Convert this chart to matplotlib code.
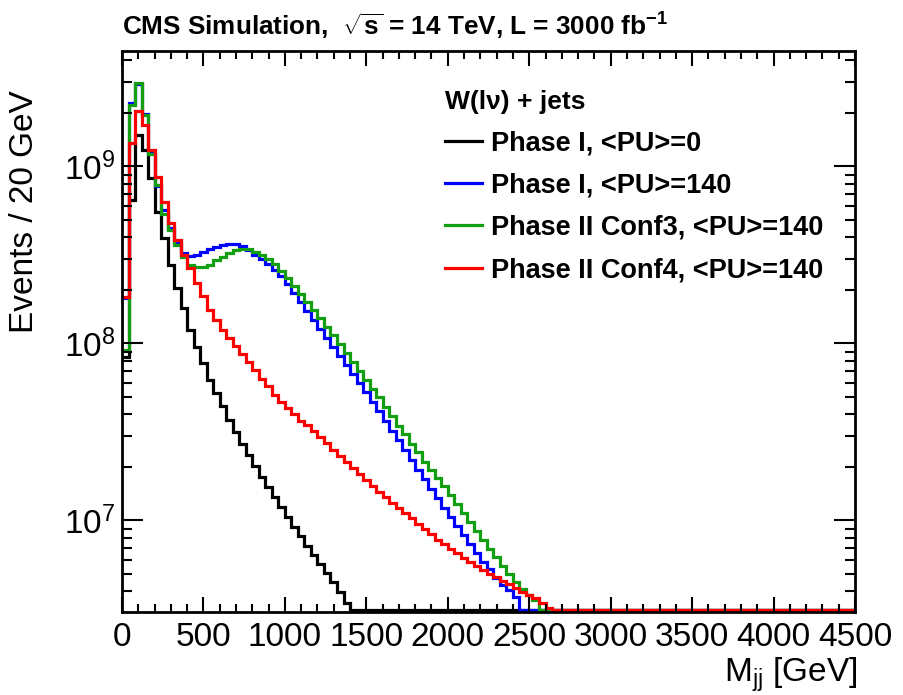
import numpy as np
import matplotlib
matplotlib.use("Agg")
import matplotlib.pyplot as plt
from matplotlib.lines import Line2D
from matplotlib.ticker import MultipleLocator, LogLocator, LogFormatterSciNotation, NullFormatter

plt.rcParams['font.family'] = ['Liberation Sans', 'DejaVu Sans']
plt.rcParams['mathtext.fontset'] = 'custom'
plt.rcParams['mathtext.rm'] = 'Liberation Sans'
plt.rcParams['mathtext.it'] = 'Liberation Sans:italic'
plt.rcParams['mathtext.bf'] = 'Liberation Sans:bold'

# ---------------- data (events per bin, bins of 40 GeV starting at 0) ----------------
BIN_WIDTH = 40
X_MAX = 4500
Y_MIN, Y_MAX = 3.04e6, 4.49e9

labels = ["Phase I, <PU>=0", "Phase I, <PU>=140",
          "Phase II Conf3, <PU>=140", "Phase II Conf4, <PU>=140"]
colors = ["#000000", "#0000ff", "#12a012", "#ff0000"]

phase1_pu0 = [
    8.4e7, 6.47e8, 1.51e9, 1.24e9, 8.61e8, 5.53e8, 3.94e8, 2.78e8, 2.06e8, 1.59e8,
    1.19e8, 9.55e7, 7.76e7, 6.22e7, 5.25e7, 4.43e7, 3.70e7, 3.16e7, 2.70e7, 2.34e7,
    2.03e7, 1.76e7, 1.55e7, 1.36e7, 1.19e7, 1.05e7, 9.19e6, 8.18e6, 7.18e6, 6.38e6,
    5.68e6, 5.05e6, 4.49e6, 3.94e6, 3.42e6,
]
phase1_pu140 = [
    1.81e8, 2.29e9, 2.92e9, 1.98e9, 1.19e9, 7.76e8, 5.68e8, 4.49e8, 3.75e8, 3.25e8,
    3.12e8, 3.16e8, 3.29e8, 3.42e8, 3.51e8, 3.60e8, 3.65e8, 3.65e8, 3.55e8, 3.37e8,
    3.16e8, 3.00e8, 2.81e8, 2.60e8, 2.41e8, 2.17e8, 1.93e8, 1.72e8, 1.53e8, 1.36e8,
    1.21e8, 1.07e8, 9.55e7, 8.50e7, 7.56e7, 6.73e7, 5.98e7, 5.32e7, 4.67e7, 4.16e7,
    3.65e7, 3.20e7, 2.85e7, 2.50e7, 2.20e7, 1.93e7, 1.72e7, 1.51e7, 1.34e7, 1.18e7,
    1.05e7, 9.31e6, 8.28e6, 7.37e6, 6.55e6, 5.83e6, 5.32e6, 4.73e6, 4.32e6, 4.05e6,
    3.70e6,
]
phase2_conf3 = [
    9.19e7, 2.23e9, 2.96e9, 1.95e9, 1.18e9, 7.86e8, 5.39e8, 4.38e8, 3.60e8, 3.08e8,
    2.78e8, 2.70e8, 2.70e8, 2.78e8, 2.96e8, 3.08e8, 3.25e8, 3.37e8, 3.42e8, 3.42e8,
    3.29e8, 3.16e8, 3.00e8, 2.81e8, 2.57e8, 2.34e8, 2.11e8, 1.90e8, 1.72e8, 1.55e8,
    1.39e8, 1.24e8, 1.12e8, 9.94e7, 8.84e7, 7.86e7, 6.99e7, 6.22e7, 5.53e7, 4.98e7,
    4.38e7, 3.90e7, 3.42e7, 3.08e7, 2.70e7, 2.44e7, 2.14e7, 1.93e7, 1.74e7, 1.57e7,
    1.39e7, 1.24e7, 1.10e7, 9.80e6, 8.72e6, 7.76e6, 6.90e6, 6.22e6, 5.53e6, 4.98e6,
    4.49e6, 4.10e6, 3.79e6, 3.55e6,
]
phase2_conf4 = [
    1.83e8, 1.36e9, 2.06e9, 1.72e9, 1.24e9, 8.72e8, 6.30e8, 4.80e8, 3.84e8, 3.16e8,
    2.67e8, 2.20e8, 1.86e8, 1.55e8, 1.36e8, 1.19e8, 1.07e8, 9.68e7, 8.72e7, 7.86e7,
    7.08e7, 6.30e7, 5.75e7, 5.12e7, 4.67e7, 4.32e7, 4.00e7, 3.65e7, 3.46e7, 3.20e7,
    2.96e7, 2.74e7, 2.50e7, 2.31e7, 2.14e7, 1.98e7, 1.83e7, 1.69e7, 1.57e7, 1.45e7,
    1.36e7, 1.26e7, 1.18e7, 1.10e7, 1.03e7, 9.55e6, 8.95e6, 8.39e6, 7.76e6, 7.37e6,
    6.90e6, 6.55e6, 6.14e6, 5.83e6, 5.53e6, 5.25e6, 4.98e6, 4.80e6, 4.55e6, 4.38e6,
    4.16e6, 3.94e6, 3.79e6, 3.65e6, 3.42e6, 3.20e6,
]
series = [phase1_pu0, phase1_pu140, phase2_conf3, phase2_conf4]

x_ticks = [0, 500, 1000, 1500, 2000, 2500, 3000, 3500, 4000, 4500]

# ---------------- figure ----------------
fig = plt.figure(figsize=(9.04, 6.95), dpi=100)
ax = fig.add_axes([122 / 904, 83 / 695, 733 / 904, 561 / 695])

n_bins = int(np.ceil(X_MAX / BIN_WIDTH))
edges = np.arange(n_bins + 1) * BIN_WIDTH
floor = Y_MIN * 1.03  # empty / underflow bins drawn along the frame like ROOT

handles = []
for vals, col, lab in zip(series, colors, labels):
    full = np.zeros(n_bins)
    full[:len(vals)] = vals
    ax.stairs(np.maximum(full, floor), edges, baseline=None, color=col, lw=2.3)
    handles.append(Line2D([], [], color=col, lw=2.3))

ax.set_yscale('log')
ax.set_xlim(0, X_MAX)
ax.set_ylim(Y_MIN, Y_MAX)

ax.set_xticks(x_ticks)
ax.xaxis.set_minor_locator(MultipleLocator(100))
ax.yaxis.set_major_locator(LogLocator(base=10))
ax.yaxis.set_minor_locator(LogLocator(base=10, subs=np.arange(2, 10)))
ax.yaxis.set_major_formatter(LogFormatterSciNotation())
ax.yaxis.set_minor_formatter(NullFormatter())

ax.tick_params(axis='both', which='both', direction='in', top=True, right=True,
               width=1.5, colors='black')
ax.tick_params(axis='x', which='major', length=11, labelsize=24, pad=7)
ax.tick_params(axis='x', which='minor', length=5.5)
ax.tick_params(axis='y', which='major', length=15, labelsize=24, pad=5)
ax.tick_params(axis='y', which='minor', length=7.5)
for sp in ax.spines.values():
    sp.set_linewidth(2)

ax.set_ylabel('Events / 20 GeV', fontsize=24)
ax.yaxis.set_label_coords(-0.112, 0.713)

fig.text(858 / 904, 1 - 682 / 695, r'M$_{\rm jj}$ [GeV]', fontsize=24,
         ha='right', va='baseline')

fig.text(122 / 904, 1 - 36 / 695,
         r'CMS Simulation,  $\mathbf{\sqrt{s}}$ = 14 TeV, L = 3000 fb$^{\mathbf{-1}}$',
         fontsize=18.8, fontweight='bold', ha='left', va='baseline')

leg = ax.legend(handles, labels, title='W(l\u03bd) + jets', loc='upper left',
                bbox_to_anchor=((445 - 122) / 733, (612 - 90) / 561),
                frameon=False, prop={'weight': 'bold', 'size': 19.5},
                title_fontproperties={'weight': 'bold', 'size': 19},
                alignment='left', handlelength=1.35, handletextpad=0.35,
                labelspacing=0.6, borderpad=0, borderaxespad=0)

fig.savefig('out.png', dpi=100)
